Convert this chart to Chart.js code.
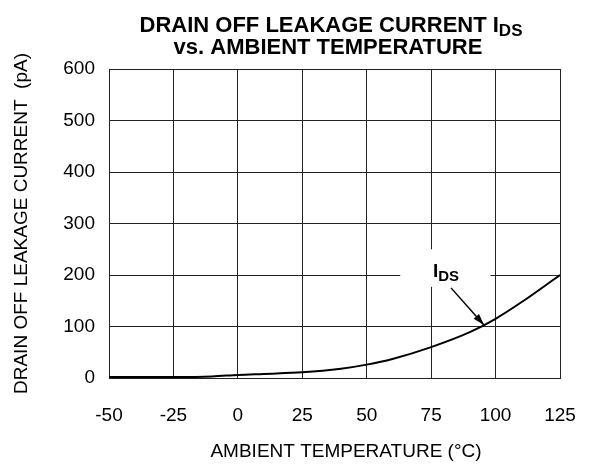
<!DOCTYPE html>
<html>
<head>
<meta charset="utf-8">
<script src="https://cdn.jsdelivr.net/npm/chart.js@4.4.1/dist/chart.umd.min.js"></script>
<style>
  html, body { margin: 0; padding: 0; background: #fff; }
  #wrap { width: 590px; height: 464px; }
</style>
</head>
<body>
<div id="wrap"><canvas id="idsChart" width="590" height="464"></canvas></div>
<script>
// data
var temps   = [-50, -40, -25, -10, 0, 10, 25, 40, 50, 60, 75, 90, 100, 110, 125];
var leakage = [2, 2, 2, 3, 6, 8, 11, 18, 26, 37, 60, 89, 115, 147, 200];
var xTicks  = [-50, -25, 0, 25, 50, 75, 100, 125];
var yTicks  = [0, 100, 200, 300, 400, 500, 600];

var FONT = 'Liberation Sans, Arial, sans-serif';

// title, x axis title and the I_DS callout
var extras = {
    id: 'extras',
    beforeDatasetsDraw: function(chart) {
        var c = chart.ctx, x = chart.scales.x, y = chart.scales.y;
        // white box behind the callout label
        c.save();
        c.fillStyle = '#fff';
        var l = x.getPixelForValue(63), r = x.getPixelForValue(98);
        var t = y.getPixelForValue(250), b = y.getPixelForValue(177);
        c.fillRect(l, t, r - l, b - t);
        c.restore();
    },
    afterDraw: function(chart) {
        var c = chart.ctx, x = chart.scales.x, y = chart.scales.y;
        c.save();
        c.fillStyle = '#000';
        c.textBaseline = 'alphabetic';

        // title line 1 with subscript
        var main = 'DRAIN OFF LEAKAGE CURRENT I';
        c.font = 'bold 22px ' + FONT;
        var wMain = c.measureText(main).width;
        c.font = 'bold 17px ' + FONT;
        var wSub = c.measureText('DS').width;
        var x0 = 331 - (wMain + wSub) / 2;
        c.textAlign = 'left';
        c.font = 'bold 22px ' + FONT;
        c.fillText(main, x0, 32);
        c.font = 'bold 17px ' + FONT;
        c.fillText('DS', x0 + wMain, 36);
        c.font = 'bold 22px ' + FONT;
        c.textAlign = 'center';
        c.fillText('vs. AMBIENT TEMPERATURE', 328, 54);

        // x axis title
        c.font = '19px ' + FONT;
        c.fillText('AMBIENT TEMPERATURE (\u00B0C)', 346, 457);

        // callout label
        var lx = x.getPixelForValue(75.7), ly = y.getPixelForValue(196);
        c.textAlign = 'left';
        c.font = 'bold 19px ' + FONT;
        c.fillText('I', lx, ly);
        var wi = c.measureText('I').width;
        c.font = 'bold 15px ' + FONT;
        c.fillText('DS', lx + wi, ly + 4);

        // arrow
        var ax = x.getPixelForValue(82.7), ay = y.getPixelForValue(175);
        var bx = x.getPixelForValue(95.5), by = y.getPixelForValue(103);
        c.strokeStyle = '#000';
        c.lineWidth = 1.5;
        c.beginPath();
        c.moveTo(ax, ay);
        c.lineTo(bx, by);
        c.stroke();
        var ang = Math.atan2(by - ay, bx - ax);
        c.beginPath();
        c.moveTo(bx, by);
        c.lineTo(bx - 12 * Math.cos(ang - 0.3), by - 12 * Math.sin(ang - 0.3));
        c.lineTo(bx - 12 * Math.cos(ang + 0.3), by - 12 * Math.sin(ang + 0.3));
        c.closePath();
        c.fill();
        c.restore();
    }
};

var ctx = document.getElementById('idsChart').getContext('2d');
var idsChart = new Chart(ctx, {
    type: 'line',
    data: {
        datasets: [{
            label: 'IDS',
            data: temps.map(function(t, i) { return { x: t, y: leakage[i] }; }),
            borderColor: '#000',
            borderWidth: 2,
            pointRadius: 0,
            fill: false,
            cubicInterpolationMode: 'monotone'
        }]
    },
    options: {
        responsive: false,
        animation: false,
        layout: { padding: { top: 69, right: 30, left: 0, bottom: 0 } },
        plugins: {
            legend: { display: false },
            tooltip: { enabled: false }
        },
        scales: {
            x: {
                type: 'linear',
                min: -50, max: 125,
                afterBuildTicks: function(s) { s.ticks = xTicks.map(function(v) { return { value: v }; }); },
                afterFit: function(s) {
                    s.height = 86;
                    s.paddingLeft = 0;
                    s.paddingRight = 0;
                },
                grid: { color: '#222', lineWidth: 1, drawTicks: false },
                border: { color: '#222', width: 1 },
                ticks: { color: '#000', padding: 26, maxRotation: 0, font: { family: FONT, size: 19 } }
            },
            y: {
                min: 0, max: 600,
                afterBuildTicks: function(s) { s.ticks = yTicks.map(function(v) { return { value: v }; }); },
                afterFit: function(s) { s.width = 109; },
                grid: { color: '#222', lineWidth: 1, drawTicks: false },
                border: { color: '#222', width: 1 },
                ticks: { color: '#000', padding: 14, font: { family: FONT, size: 19 } },
                title: {
                    display: true,
                    text: 'DRAIN OFF LEAKAGE CURRENT  (pA)',
                    color: '#000',
                    font: { family: FONT, size: 19 },
                    padding: { top: 10, bottom: 0 }
                }
            }
        }
    },
    plugins: [extras]
});
</script>
</body>
</html>
